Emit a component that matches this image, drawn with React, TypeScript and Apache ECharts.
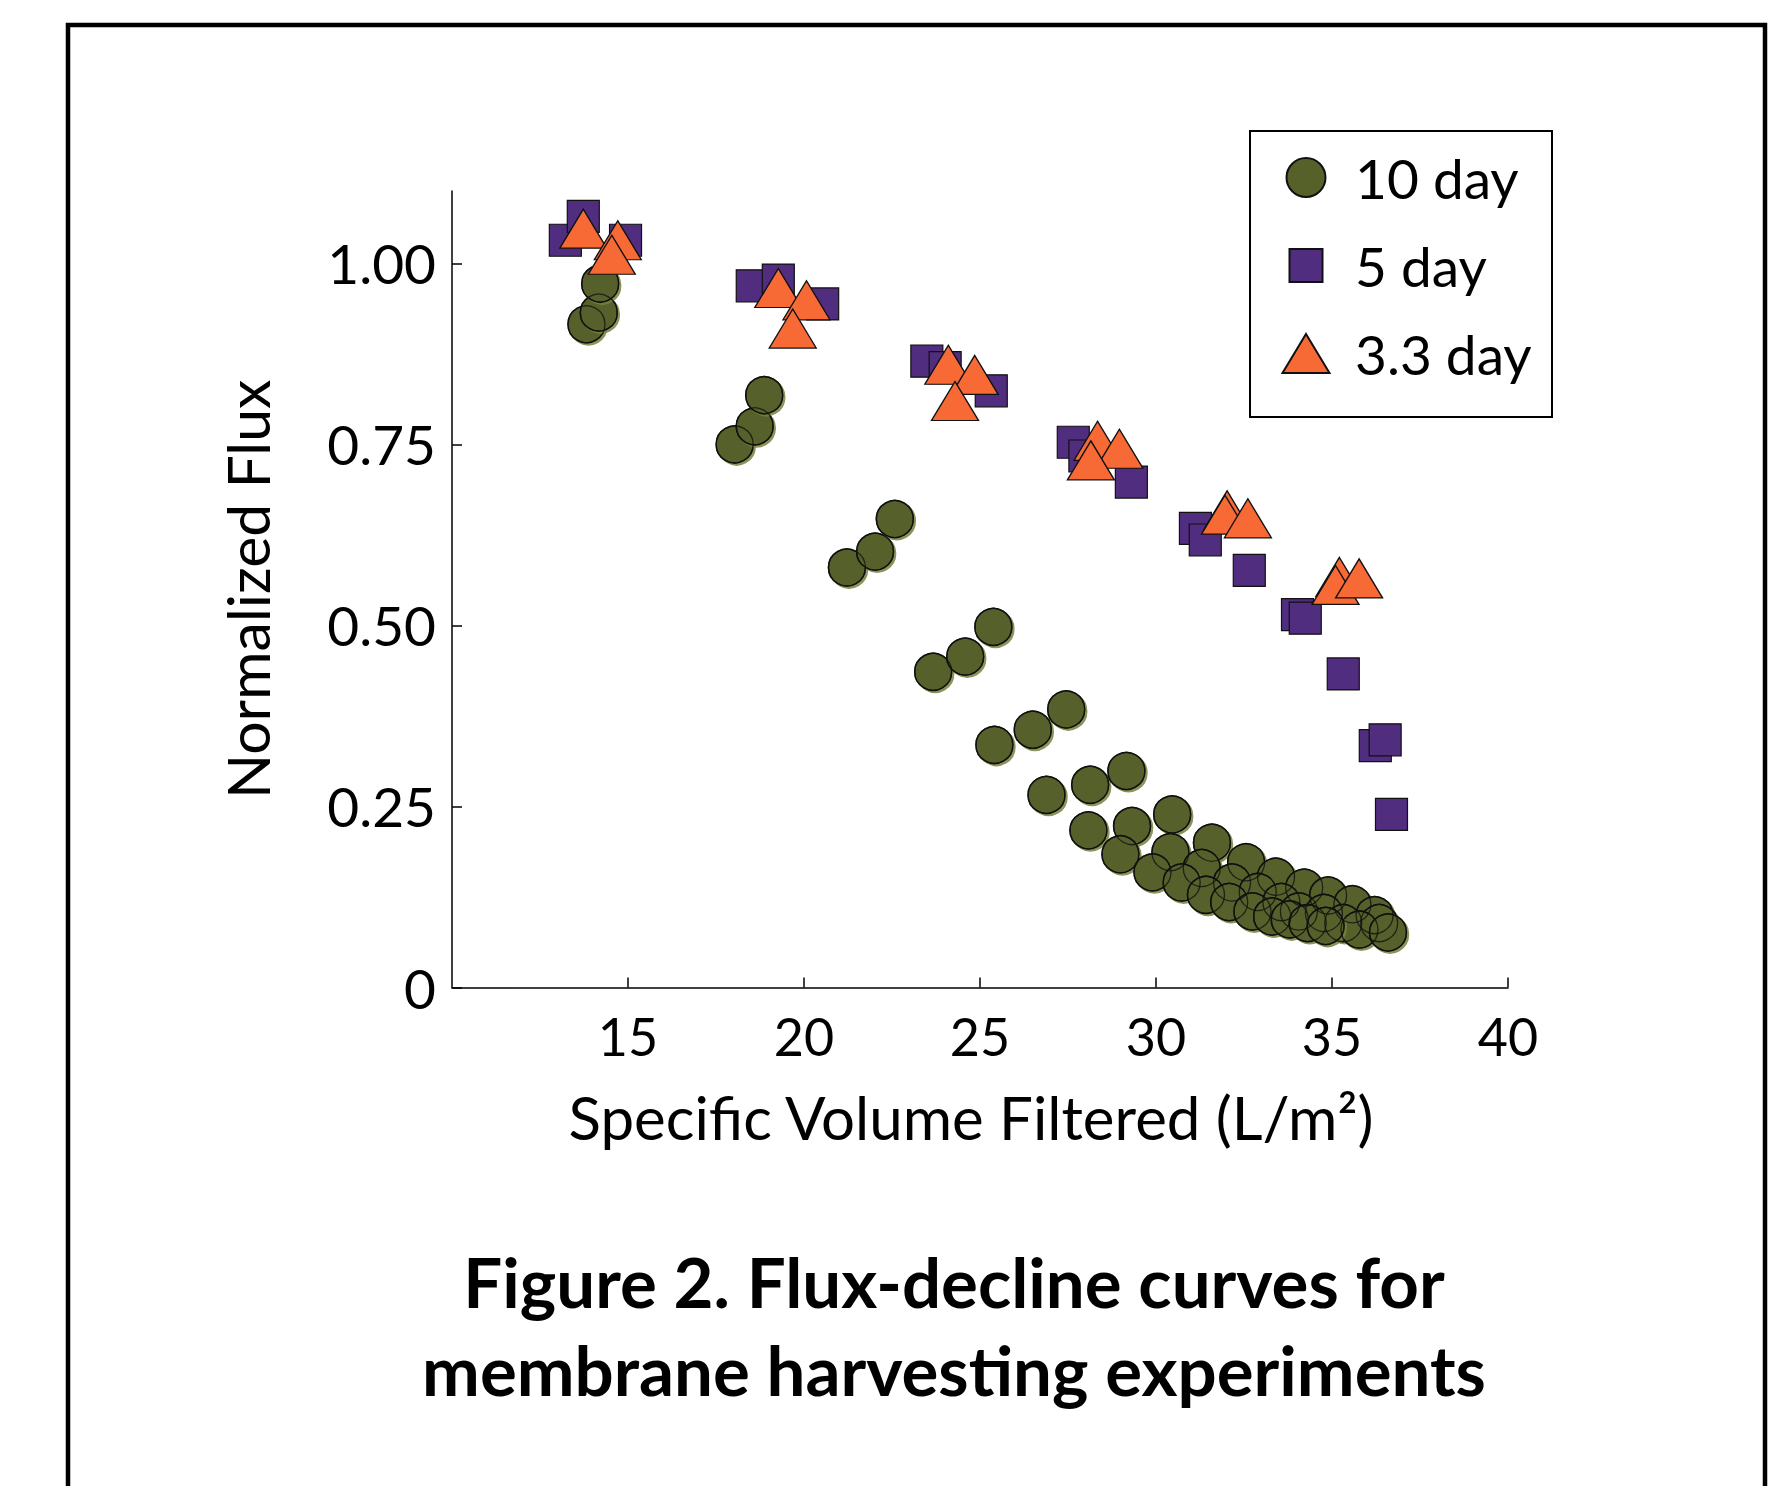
import React, { useEffect, useRef } from "react";
import * as echarts from "echarts";

// ---- Data ----
const seriesNames = ["10 day", "5 day", "3.3 day"];
const xTicks = [15, 20, 25, 30, 35, 40];
const yTicks = [0, 0.25, 0.5, 0.75, 1.0];

const tenDay: [number, number][] = [
  [13.82, 0.916], [14.17, 0.932], [14.21, 0.972],
  [18.03, 0.750], [18.60, 0.775], [18.87, 0.818],
  [21.22, 0.580], [22.02, 0.602], [22.58, 0.647],
  [23.67, 0.436], [24.58, 0.457], [25.38, 0.498],
  [25.41, 0.335], [26.50, 0.356], [27.45, 0.384],
  [26.89, 0.266], [28.13, 0.280], [29.16, 0.299],
  [28.08, 0.217], [29.32, 0.223], [30.46, 0.239],
  [28.99, 0.184], [30.41, 0.187], [31.59, 0.200],
  [29.90, 0.159], [31.30, 0.165], [32.56, 0.173],
  [30.73, 0.145], [32.16, 0.145], [33.41, 0.153],
  [31.42, 0.128], [32.89, 0.132], [34.21, 0.138],
  [32.08, 0.118], [33.56, 0.118], [34.89, 0.127],
  [32.74, 0.105], [34.06, 0.105], [35.58, 0.115],
  [33.30, 0.098], [34.77, 0.103], [36.21, 0.100],
  [33.80, 0.094], [35.32, 0.089], [36.34, 0.089],
  [34.31, 0.089], [35.78, 0.080], [36.59, 0.076],
  [34.82, 0.085],
];

const fiveDay: [number, number][] = [
  [13.22, 1.032], [13.73, 1.065], [14.93, 1.032],
  [18.53, 0.969], [19.27, 0.977], [20.53, 0.944],
  [23.49, 0.865], [24.01, 0.856], [25.32, 0.824],
  [27.65, 0.753], [27.98, 0.734], [29.30, 0.698],
  [31.12, 0.634], [31.40, 0.618], [32.65, 0.576],
  [34.02, 0.515], [34.24, 0.510], [35.32, 0.433],
  [36.23, 0.334], [36.51, 0.342], [36.69, 0.239],
];

const threeDay: [number, number][] = [
  [13.73, 1.048], [14.71, 1.032], [14.54, 1.012],
  [19.27, 0.966], [20.07, 0.949], [19.68, 0.910],
  [24.10, 0.860], [24.85, 0.846], [24.29, 0.810],
  [28.34, 0.755], [28.96, 0.744], [28.15, 0.728],
  [32.02, 0.659], [31.96, 0.653], [32.61, 0.648],
  [35.21, 0.567], [35.10, 0.556], [35.77, 0.565],
];

const FONT = "Lato";

// Legend icons: each path's bounding box is 96 x 40 (the legend item box), so no scaling happens.
const legendIcons = [
  "path://M0,0M32.5,20A19.5,19.5,0,1,1,71.5,20A19.5,19.5,0,1,1,32.5,20ZM96,40",
  "path://M0,0M35.5,3.5L68.5,3.5L68.5,36.5L35.5,36.5ZM96,40",
  "path://M0,0M52,0.5L75.5,39.5L28.5,39.5ZM96,40",
];

export default function App() {
  const ref = useRef<HTMLDivElement>(null);

  useEffect(() => {
    document.body.style.margin = "0";
    const chart = echarts.init(ref.current!, null, {
      renderer: "svg",
      width: 1786,
      height: 1486,
    });

    chart.setOption({
      animation: false,
      backgroundColor: "#ffffff",
      grid: { left: 452, right: 278, top: 191, bottom: 498.5 },
      legend: {
        data: seriesNames.map((name, i) => ({ name, icon: legendIcons[i] })),
        orient: "vertical",
        left: 1248,
        top: 145,
        itemWidth: 96,
        itemHeight: 40,
        itemGap: 33,
        symbolKeepAspect: true,
        selectedMode: false,
        textStyle: { fontFamily: FONT, fontSize: 55, color: "#000" },
      },
      xAxis: {
        type: "value",
        min: 10,
        max: 40,
        interval: 5,
        name: "Specific Volume Filtered (L/m²)",
        nameLocation: "middle",
        nameGap: 99,
        nameTextStyle: {
          fontFamily: FONT,
          fontSize: 60,
          color: "#000",
          padding: [0, 18, 0, 0],
        },
        axisLine: { show: true, onZero: false, lineStyle: { color: "#000", width: 1.5 } },
        axisTick: {
          show: true,
          inside: true,
          length: 10,
          customValues: xTicks,
          lineStyle: { color: "#000", width: 1.5 },
        },
        axisLabel: {
          customValues: xTicks,
          margin: 22,
          fontFamily: FONT,
          fontSize: 52,
          color: "#000",
        },
        splitLine: { show: false },
      },
      yAxis: {
        type: "value",
        min: 0,
        max: 1.1,
        name: "Normalized Flux",
        nameLocation: "middle",
        nameGap: 175,
        nameRotate: 90,
        nameTextStyle: { fontFamily: FONT, fontSize: 59, color: "#000" },
        axisLine: { show: true, lineStyle: { color: "#000", width: 1.5 } },
        axisTick: {
          show: true,
          inside: true,
          length: 10,
          customValues: yTicks,
          lineStyle: { color: "#000", width: 1.5 },
        },
        axisLabel: {
          customValues: yTicks,
          margin: 16,
          fontFamily: FONT,
          fontSize: 55,
          color: "#000",
          formatter: (v: number) => (v === 0 ? "0" : v.toFixed(2)),
        },
        splitLine: { show: false },
      },
      graphic: [
        {
          type: "rect",
          silent: true,
          z: -10,
          shape: { x: 68, y: 25, width: 1697, height: 1600 },
          style: { fill: "none", stroke: "#000", lineWidth: 4.5 },
        },
        {
          type: "rect",
          silent: true,
          shape: { x: 1250, y: 131, width: 302, height: 286 },
          style: { fill: "none", stroke: "#000", lineWidth: 2 },
        },
        {
          type: "text",
          silent: true,
          x: 954,
          y: 1237,
          style: {
            text: "Figure 2. Flux-decline curves for\nmembrane harvesting experiments",
            fontFamily: FONT,
            fontWeight: "bold",
            fontSize: 69,
            lineHeight: 88,
            textAlign: "center",
            textVerticalAlign: "top",
            fill: "#000",
          },
        },
      ],
      series: [
        {
          type: "scatter",
          name: "10 day",
          data: tenDay,
          symbol: "circle",
          symbolSize: 37,
          itemStyle: {
            color: "#566129",
            borderColor: "#111",
            borderWidth: 1.5,
            opacity: 1,
            shadowColor: "rgba(120,128,60,0.85)",
            shadowOffsetX: 2,
            shadowOffsetY: 2,
            shadowBlur: 0,
          },
        },
        {
          type: "scatter",
          name: "10 day outline",
          data: tenDay,
          symbol: "circle",
          symbolSize: 37,
          silent: true,
          itemStyle: { color: "rgba(0,0,0,0)", borderColor: "#111", borderWidth: 1.3 },
        },
        {
          type: "scatter",
          name: "5 day",
          data: fiveDay,
          symbol: "rect",
          symbolSize: 32,
          itemStyle: { color: "#512D80", borderColor: "#111", borderWidth: 1.2, opacity: 1 },
        },
        {
          type: "scatter",
          name: "3.3 day",
          data: threeDay,
          symbol: "triangle",
          symbolSize: [47, 39],
          itemStyle: { color: "#F76A36", borderColor: "#111", borderWidth: 1.3, opacity: 1 },
        },
      ],
    });

    return () => chart.dispose();
  }, []);

  return (
    <div
      ref={ref}
      style={{ position: "absolute", left: 0, top: 0, width: 1786, height: 1486 }}
    />
  );
}
